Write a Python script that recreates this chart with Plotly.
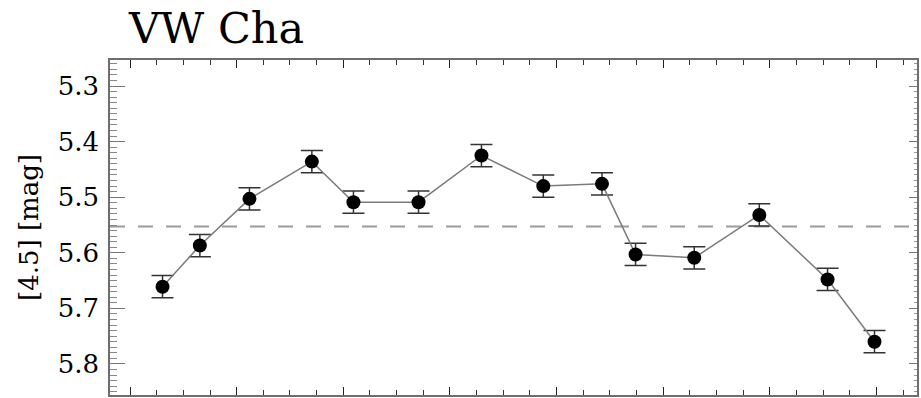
import numpy as np
import plotly.graph_objects as go

# Observation epochs (days) and [4.5] magnitudes with uncertainties
epoch = [0.61, 1.31, 2.24, 3.41, 4.19, 5.41, 6.59, 7.75, 8.85, 9.48, 10.58, 11.80, 13.08, 13.96]
mag45 = [5.661, 5.587, 5.503, 5.436, 5.509, 5.509, 5.425, 5.480, 5.476, 5.603, 5.609, 5.532, 5.648, 5.760]
mag_err = [0.02] * len(mag45)

star_name = "VW Cha"
y_label = "[4.5] [mag]"
mean_mag = float(np.mean(mag45))

serif = "DejaVu Serif"
frame = "#6e6e6e"

fig = go.Figure()

# Mean magnitude reference line
fig.add_hline(y=mean_mag, line=dict(color="#9a9a9a", width=2, dash="15px,13px"), layer="below")

fig.add_trace(go.Scatter(
    x=epoch, y=mag45,
    mode="lines+markers",
    line=dict(color="#7a7a7a", width=1.5),
    marker=dict(color="black", size=14, line=dict(width=0)),
    error_y=dict(type="data", array=mag_err, visible=True,
                 color="#333333", thickness=1.5, width=11),
    showlegend=False,
))

# Empty trace so the right-hand axis is drawn
fig.add_trace(go.Scatter(x=[], y=[], yaxis="y2", showlegend=False))

fig.update_layout(
    width=921, height=398,
    margin=dict(l=110, r=4, t=60, b=3),
    paper_bgcolor="white", plot_bgcolor="white",
    font=dict(family=serif),
    title=dict(text=star_name, x=129 / 921, xanchor="left", xref="container",
               y=1 - 28 / 398, yanchor="middle", yref="container",
               font=dict(family=serif, size=43, color="black")),
    xaxis=dict(
        range=[-0.375, 14.757], showgrid=False, zeroline=False,
        showline=True, linecolor=frame, linewidth=1.5, mirror="ticks",
        ticks="inside", tick0=0, dtick=2, ticklen=8, tickcolor="#222", tickwidth=1.2,
        minor=dict(ticks="inside", dtick=0.5, ticklen=5, tickcolor="#333", tickwidth=1),
        showticklabels=False,
    ),
    yaxis=dict(
        range=[5.8558, 5.2532], showgrid=False, zeroline=False,
        showline=True, linecolor=frame, linewidth=1.5,
        ticks="inside", tick0=5.3, dtick=0.1, ticklen=15, tickcolor="#777", tickwidth=1.2,
        minor=dict(ticks="inside", dtick=0.01, ticklen=7, tickcolor="#888", tickwidth=1),
        tickformat=".1f", ticklabelstandoff=4,
        tickfont=dict(family=serif, size=26, color="black"),
        title=dict(text=y_label, font=dict(family=serif, size=26, color="black"), standoff=12),
    ),
    yaxis2=dict(
        overlaying="y", side="right", matches="y", range=[5.8558, 5.2532],
        showgrid=False, zeroline=False,
        showline=True, linecolor=frame, linewidth=1.5,
        ticks="inside", tick0=5.3, dtick=0.1, ticklen=8, tickcolor="#777", tickwidth=1.2,
        minor=dict(ticks="inside", dtick=0.01, ticklen=3, tickcolor="#999", tickwidth=1),
        showticklabels=False,
    ),
)

fig.write_html("out.html")
